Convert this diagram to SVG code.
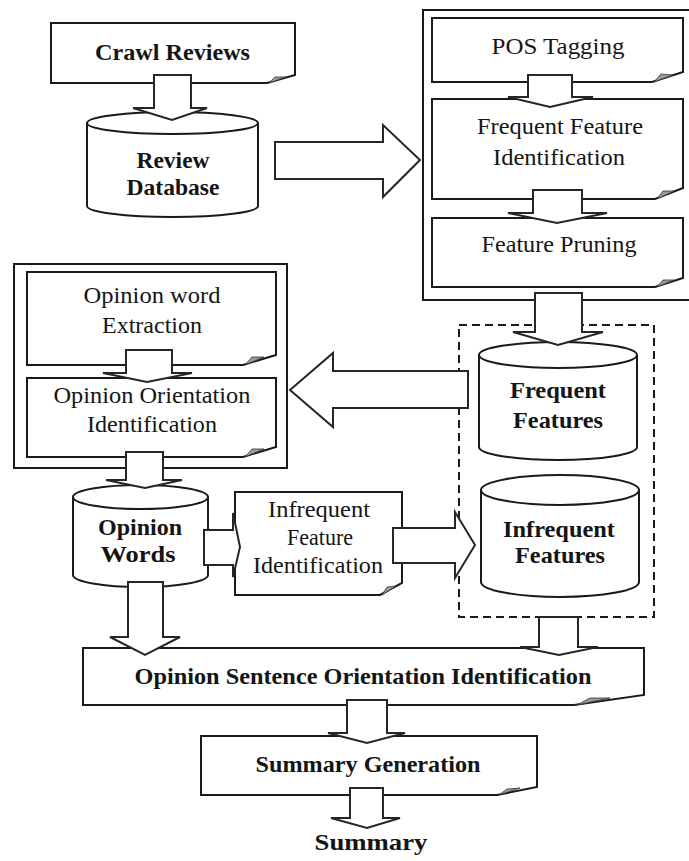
<svg xmlns="http://www.w3.org/2000/svg" width="689" height="861" viewBox="0 0 689 861">
<defs>
<style>
.shape{fill:#fff;stroke:#1a1a1a;stroke-width:2;stroke-linejoin:miter}
.frame{fill:none;stroke:#1a1a1a;stroke-width:2}
.dash{fill:none;stroke:#1a1a1a;stroke-width:2;stroke-dasharray:8 5}
.fold{fill:#9a9a9a;stroke:#333;stroke-width:0.8}
.arrow{fill:#fff;stroke:#262626;stroke-width:2;stroke-linejoin:miter}
text{font-family:"Liberation Serif","Times New Roman",serif;font-size:23px;fill:#151515;text-anchor:middle}
.b{font-weight:bold}
</style>
</defs>
<rect width="689" height="861" fill="#fff"/>

<g id="group-top-right"><rect class="frame" x="423" y="10" width="269" height="290"/></g>
<g id="group-left"><rect class="frame" x="14" y="264" width="273" height="204"/></g>
<g id="group-features"><rect class="dash" x="459" y="325" width="195" height="292"/></g>

<g id="crawl-reviews">
<path class="shape" d="M51,23 H295 V75 L267,83 H51 Z"/>
<path class="fold" d="M269,83 L275,77 L286,77 Z"/>
<text class="b" x="172.5" y="60" textLength="155" lengthAdjust="spacingAndGlyphs">Crawl Reviews</text>
</g>

<g id="review-database">
<path class="shape" d="M87,123 V206 A85.5,11 0 0 0 258,206 V123 A85.5,11 0 0 0 87,123 Z"/>
<path class="shape" d="M87,123 A85.5,11 0 0 0 258,123"/>
<text class="b" x="173" y="168" textLength="73" lengthAdjust="spacingAndGlyphs">Review</text>
<text class="b" x="173" y="195" textLength="93" lengthAdjust="spacingAndGlyphs">Database</text>
</g>

<g id="pos-tagging">
<path class="shape" d="M432,18 H683 V72 L652,82 H432 Z"/>
<path class="fold" d="M654,82 L661,74 L673,75 Z"/>
<text x="558" y="54" textLength="133" lengthAdjust="spacingAndGlyphs">POS Tagging</text>
</g>

<g id="frequent-feature-identification">
<path class="shape" d="M432,99 H683 V188 L655,199 H432 Z"/>
<path class="fold" d="M657,199 L663,191 L674,191 Z"/>
<text x="560" y="134" textLength="166" lengthAdjust="spacingAndGlyphs">Frequent Feature</text>
<text x="559" y="165" textLength="132" lengthAdjust="spacingAndGlyphs">Identification</text>
</g>

<g id="feature-pruning">
<path class="shape" d="M432,218 H683 V278 L655,287 H432 Z"/>
<path class="fold" d="M657,287 L663,280 L674,280 Z"/>
<text x="559" y="252" textLength="155" lengthAdjust="spacingAndGlyphs">Feature Pruning</text>
</g>

<g id="opinion-word-extraction">
<path class="shape" d="M27,272 H276 V355 L243,365 H27 Z"/>
<path class="fold" d="M245,365 L252,357 L264,357 Z"/>
<text x="152" y="303" textLength="137" lengthAdjust="spacingAndGlyphs">Opinion word</text>
<text x="152" y="333" textLength="100" lengthAdjust="spacingAndGlyphs">Extraction</text>
</g>

<g id="opinion-orientation-identification">
<path class="shape" d="M27,378 H276 V447 L243,457 H27 Z"/>
<path class="fold" d="M245,457 L252,449 L264,449 Z"/>
<text x="152" y="403" textLength="197" lengthAdjust="spacingAndGlyphs">Opinion Orientation</text>
<text x="152" y="432" textLength="130" lengthAdjust="spacingAndGlyphs">Identification</text>
</g>

<g id="frequent-features">
<path class="shape" d="M479,355 V447 A79,13 0 0 0 637,447 V355 A79,13 0 0 0 479,355 Z"/>
<path class="shape" d="M479,355 A79,13 0 0 0 637,355"/>
<text class="b" x="558" y="398" textLength="96" lengthAdjust="spacingAndGlyphs">Frequent</text>
<text class="b" x="558" y="428" textLength="90" lengthAdjust="spacingAndGlyphs">Features</text>
</g>

<g id="infrequent-features">
<path class="shape" d="M481,490 V582 A79,15 0 0 0 639,582 V490 A79,15 0 0 0 481,490 Z"/>
<path class="shape" d="M481,490 A79,15 0 0 0 639,490"/>
<text class="b" x="559" y="537" textLength="112" lengthAdjust="spacingAndGlyphs">Infrequent</text>
<text class="b" x="560" y="563" textLength="90" lengthAdjust="spacingAndGlyphs">Features</text>
</g>

<g id="opinion-words">
<path class="shape" d="M73,497 V575 A67.5,12 0 0 0 208,575 V497 A67.5,12 0 0 0 73,497 Z"/>
<path class="shape" d="M73,497 A67.5,12 0 0 0 208,497"/>
<text class="b" x="140" y="535" textLength="84" lengthAdjust="spacingAndGlyphs">Opinion</text>
<text class="b" x="138" y="562" textLength="75" lengthAdjust="spacingAndGlyphs">Words</text>
</g>

<g id="infrequent-feature-identification">
<path class="shape" d="M235,492 H402 V583 L380,595 H235 Z"/>
<path class="fold" d="M382,595 L387,587 L396,586 Z"/>
<text x="319" y="517" textLength="102" lengthAdjust="spacingAndGlyphs">Infrequent</text>
<text x="320" y="545" textLength="66" lengthAdjust="spacingAndGlyphs">Feature</text>
<text x="318" y="573" textLength="130" lengthAdjust="spacingAndGlyphs">Identification</text>
</g>

<g id="opinion-sentence-orientation-identification">
<path class="shape" d="M83,648 H644 V695 L574,705 H83 Z"/>
<path class="fold" d="M577,705 L590,698 L610,698 Z"/>
<text class="b" x="363" y="684" textLength="457" lengthAdjust="spacingAndGlyphs">Opinion Sentence Orientation Identification</text>
</g>

<g id="summary-generation">
<path class="shape" d="M201,736 H537 V787 L497,795 H201 Z"/>
<path class="fold" d="M499,795 L507,789 L520,788 Z"/>
<text class="b" x="368" y="772" textLength="225" lengthAdjust="spacingAndGlyphs">Summary Generation</text>
</g>

<g id="summary">
<text class="b" x="371" y="850" textLength="113" lengthAdjust="spacingAndGlyphs">Summary</text>
</g>

<g id="connectors">
<polygon class="arrow" points="154,75 191,75 191,108 207,108 172,120 133,108 154,108"/>
<polygon class="arrow" points="275,142 383,142 383,125 420,160 383,197 383,179 275,179"/>
<polygon class="arrow" points="528,75 572,75 572,97 593,97 550,107 508,97 528,97"/>
<polygon class="arrow" points="533,190 582,190 582,213 607,213 557,223 508,213 533,213"/>
<polygon class="arrow" points="535,293 582,293 582,332 603,332 558,345 513,332 535,332"/>
<polygon class="arrow" points="468,371 333,371 333,353 290,390 333,427 333,408 468,408"/>
<polygon class="arrow" points="126,350 172,350 172,373 192,373 147,382 103,373 126,373"/>
<polygon class="arrow" points="126,452 163,452 163,480 182,480 145,488 106,480 126,480"/>
<polygon class="arrow" points="204,530 233,530 233,513 240,547 233,577 233,565 204,565"/>
<polygon class="arrow" points="393,528 455,528 455,512 475,545 455,578 455,563 393,563"/>
<polygon class="arrow" points="128,582 163,582 163,637 180,637 145,655 110,637 128,637"/>
<polygon class="arrow" points="539,617 578,617 578,647 598,647 559,655 520,647 539,647"/>
<polygon class="arrow" points="347,700 387,700 387,733 405,733 367,743 328,733 347,733"/>
<polygon class="arrow" points="350,788 383,788 383,818 400,818 367,828 331,818 350,818"/>
</g>
</svg>
